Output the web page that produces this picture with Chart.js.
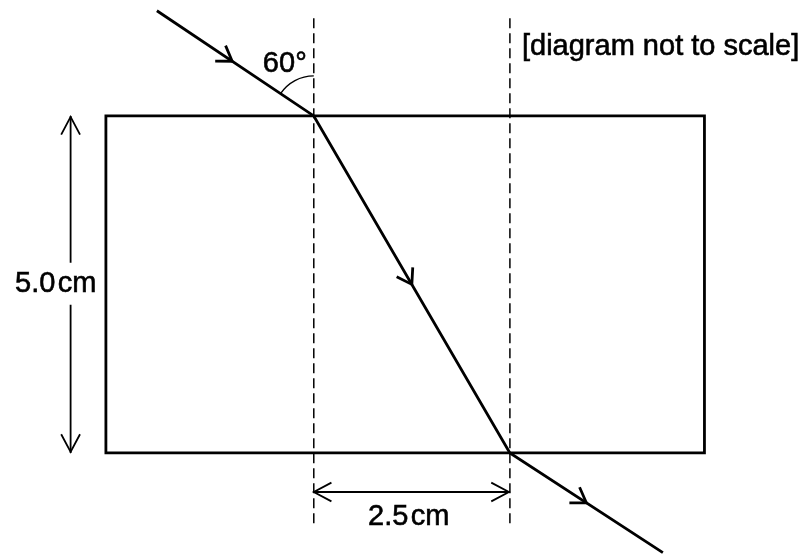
<!DOCTYPE html>
<html>
<head>
<meta charset="utf-8">
<script src="https://cdn.jsdelivr.net/npm/chart.js@4"></script>
<style>
  html, body { margin: 0; padding: 0; background: #fff; }
  canvas { display: block; }
</style>
</head>
<body>
<canvas id="diagram" width="808" height="554"></canvas>
<script>
// diagram units: x in "cm" across, y in "cm" up (block bottom = 0)
const rayX = [-2.0, 0, 2.5, 4.45];
const rayY = [6.56, 5.0, 0, -1.48];
const rayArrowAt = [0.48, 0.5, 0.5];

const blockX = [-2.65, 4.98, 4.98, -2.65, -2.65];
const blockY = [5.0, 5.0, 0, 0, 5.0];

const normalX = [0, 2.5];
const normalY = [6.45, -1.1];

// 5.0 cm height marker (gap left for its label)
const heightX = -3.1;
const heightY = [5.0, 2.82, null, 2.2, 0];

// 2.5 cm width marker
const widthX = [0, 2.5];
const widthY = -0.58;

const labelText = ['60°', '[diagram not to scale]', '5.0\u200Acm', '2.5\u200Acm'];
const labelX = [-0.09, 2.654, -3.29, 1.21];
const labelY = [5.77, 6.02, 2.51, -0.95];
const labelAlign = ['right', 'left', 'center', 'center'];

const toPoints = (xs, ys) => xs.map((x, i) => ({ x: x, y: ys[i] }));

const lineSet = (data, width, extra) => Object.assign({
    data: data,
    showLine: true,
    borderColor: '#000',
    borderWidth: width,
    pointRadius: 0,
    fill: false,
    spanGaps: false,
}, extra || {});

// chevron arrow head with its tip at (x, y) pointing along angle
function chevron(ctx, x, y, angle, len, spread) {
    ctx.beginPath();
    ctx.moveTo(x - len * Math.cos(angle - spread), y - len * Math.sin(angle - spread));
    ctx.lineTo(x, y);
    ctx.lineTo(x - len * Math.cos(angle + spread), y - len * Math.sin(angle + spread));
    ctx.stroke();
}

const diagramExtras = {
    id: 'diagramExtras',
    afterDatasetsDraw(chart) {
        const ctx = chart.ctx;
        const xs = chart.scales.x, ys = chart.scales.y;
        const px = (x, y) => ({ x: xs.getPixelForValue(x), y: ys.getPixelForValue(y) });

        ctx.save();
        ctx.strokeStyle = '#000';
        ctx.fillStyle = '#000';
        ctx.lineCap = 'butt';
        ctx.lineJoin = 'miter';

        // arrows along the light ray
        ctx.lineWidth = 2.8;
        for (let i = 0; i < rayArrowAt.length; i++) {
            const a = px(rayX[i], rayY[i]);
            const b = px(rayX[i + 1], rayY[i + 1]);
            const t = rayArrowAt[i];
            const ang = Math.atan2(b.y - a.y, b.x - a.x);
            chevron(ctx, a.x + t * (b.x - a.x), a.y + t * (b.y - a.y), ang, 17, 0.58);
        }

        // dimension arrow heads
        ctx.lineWidth = 1.8;
        const hTop = px(heightX, heightY[0]);
        const hBot = px(heightX, heightY[heightY.length - 1]);
        chevron(ctx, hTop.x, hTop.y + 1, -Math.PI / 2, 20, 0.49);
        chevron(ctx, hBot.x, hBot.y - 1, Math.PI / 2, 20, 0.49);
        const wL = px(widthX[0], widthY);
        const wR = px(widthX[1], widthY);
        chevron(ctx, wL.x, wL.y, Math.PI, 20, 0.49);
        chevron(ctx, wR.x - 1, wR.y, 0, 20, 0.49);

        // angle of incidence arc
        const e = px(rayX[1], rayY[1]);
        const s = px(rayX[0], rayY[0]);
        ctx.lineWidth = 1.4;
        ctx.beginPath();
        ctx.arc(e.x, e.y, 40, Math.atan2(s.y - e.y, s.x - e.x), -Math.PI / 2);
        ctx.stroke();

        // labels
        ctx.font = '29px "Liberation Sans", Arial, sans-serif';
        ctx.textBaseline = 'middle';
        ctx.lineWidth = 0.6;
        labelText.forEach((txt, i) => {
            const p = px(labelX[i], labelY[i]);
            ctx.textAlign = labelAlign[i];
            ctx.fillText(txt, p.x, p.y);
            ctx.strokeText(txt, p.x, p.y);
        });
        ctx.restore();
    }
};

new Chart(document.getElementById('diagram'), {
    type: 'scatter',
    data: {
        datasets: [
            lineSet(toPoints([normalX[0], normalX[0]], normalY), 1.5, { borderDash: [10, 5] }),
            lineSet(toPoints([normalX[1], normalX[1]], normalY), 1.5, { borderDash: [10, 5] }),
            lineSet(toPoints(blockX, blockY), 2.8, { borderCapStyle: 'square', borderJoinStyle: 'miter' }),
            lineSet(toPoints(heightY.map(() => heightX), heightY), 1.8),
            lineSet(toPoints(widthX, [widthY, widthY]), 1.8),
            lineSet(toPoints(rayX, rayY), 2.8, { borderJoinStyle: 'miter' }),
        ]
    },
    options: {
        responsive: false,
        devicePixelRatio: 1,
        animation: false,
        layout: { padding: 0 },
        plugins: { legend: { display: false }, tooltip: { enabled: false } },
        scales: {
            x: { type: 'linear', min: -4.0, max: 6.3, display: false },
            y: { type: 'linear', min: -1.5, max: 6.72, display: false }
        }
    },
    plugins: [diagramExtras]
});
</script>
</body>
</html>
